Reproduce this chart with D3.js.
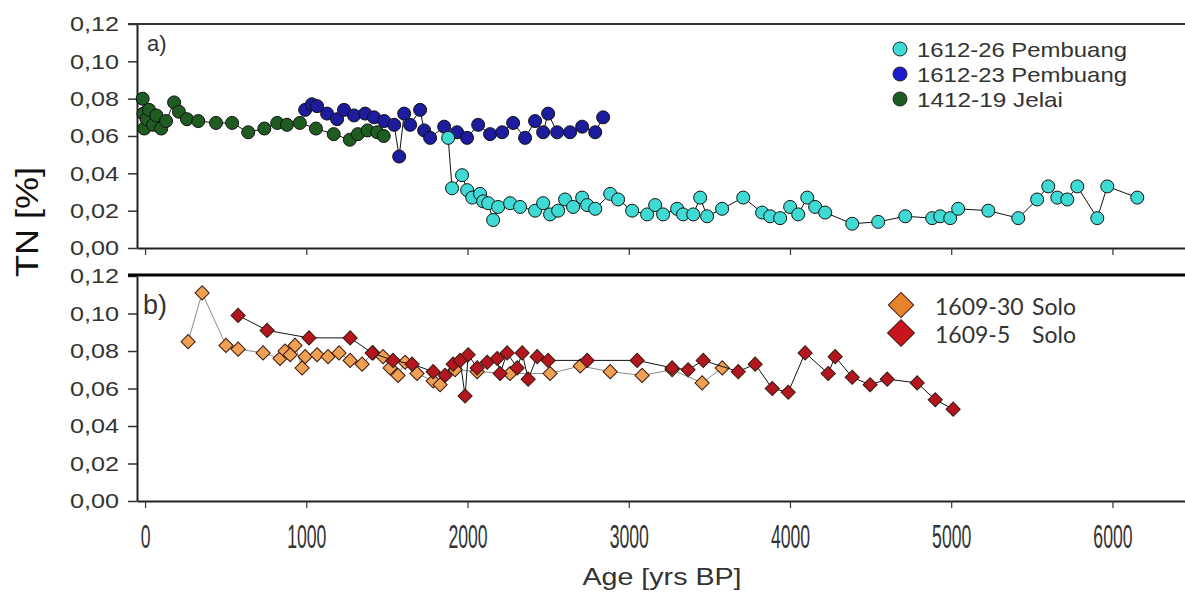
<!DOCTYPE html>
<html>
<head>
<script src="https://cdnjs.cloudflare.com/ajax/libs/d3/7.8.5/d3.min.js"></script>
<style>
    body { margin: 0; background: #fff; }
    svg text { font-family: "Liberation Sans", Arial, sans-serif; fill: #333; }
</style>
</head>
<body>
<div id="chart"></div>
<script>
const yTicks = [0, 0.02, 0.04, 0.06, 0.08, 0.10, 0.12];
const xTicks = [0, 1000, 2000, 3000, 4000, 5000, 6000];

// panel a) [age yrs BP, TN %]
const jelai = [[-15,0.080],[-10,0.072],[-5,0.064],[10,0.069],[25,0.074],[50,0.066],[70,0.071],[100,0.064],
    [130,0.068],[180,0.078],[210,0.073],[260,0.069],[330,0.068],[440,0.067],[540,0.067],[640,0.062],
    [740,0.064],[820,0.067],[880,0.066],[960,0.067],[1060,0.064],[1170,0.061],[1270,0.058],[1320,0.061],
    [1380,0.063],[1440,0.062],[1480,0.060]];
const pemb23 = [[993,0.074],[1035,0.077],[1067,0.076],[1129,0.072],[1191,0.069],[1234,0.074],[1296,0.071],
    [1365,0.072],[1420,0.070],[1483,0.068],[1545,0.066],[1576,0.049],[1607,0.072],[1644,0.066],[1706,0.074],
    [1731,0.063],[1768,0.059],[1855,0.065],[1935,0.062],[1997,0.059],[2066,0.066],[2140,0.061],[2215,0.062],
    [2283,0.067],[2357,0.059],[2419,0.068],[2469,0.062],[2500,0.072],[2556,0.062],[2636,0.062],[2711,0.065],
    [2792,0.062],[2841,0.070]];
const pemb26 = [[1880,0.059],[1904,0.032],[1966,0.039],[1998,0.031],[2029,0.027],[2078,0.029],[2097,0.025],
    [2128,0.024],[2159,0.015],[2190,0.022],[2264,0.024],[2326,0.022],[2419,0.020],[2469,0.024],[2512,0.018],
    [2562,0.020],[2605,0.026],[2655,0.022],[2711,0.027],[2742,0.023],[2792,0.021],[2885,0.029],[2934,0.026],
    [3021,0.020],[3114,0.018],[3164,0.023],[3213,0.018],[3300,0.021],[3337,0.018],[3400,0.018],[3443,0.027],
    [3486,0.017],[3579,0.021],[3710,0.027],[3827,0.019],[3877,0.017],[3939,0.016],[4001,0.022],[4051,0.018],
    [4107,0.027],[4156,0.022],[4218,0.019],[4386,0.013],[4547,0.014],[4715,0.017],[4882,0.016],[4932,0.017],
    [4994,0.016],[5043,0.021],[5230,0.020],[5416,0.016],[5533,0.026],[5602,0.033],[5658,0.027],[5720,0.026],
    [5782,0.033],[5906,0.016],[5968,0.033],[6154,0.027]];

// panel b)
const solo30 = [[267,0.085],[354,0.111],[502,0.083],[577,0.081],[732,0.079],[837,0.076],[868,0.080],[900,0.078],
    [930,0.083],[974,0.071],[993,0.077],[1067,0.078],[1135,0.077],[1203,0.079],[1272,0.075],[1346,0.073],
    [1414,0.079],[1476,0.077],[1520,0.071],[1569,0.067],[1613,0.074],[1687,0.068],[1787,0.064],[1830,0.062],
    [1923,0.070],[2060,0.069],[2264,0.068],[2512,0.068],[2699,0.072],[2885,0.069],[3083,0.067],[3269,0.070],
    [3455,0.063],[3580,0.071]];
const solo5 = [[577,0.099],[757,0.091],[1017,0.087],[1272,0.087],[1408,0.079],[1538,0.075],[1656,0.073],
    [1787,0.069],[1861,0.067],[1911,0.073],[1954,0.075],[1985,0.056],[2004,0.078],[2060,0.071],[2122,0.074],
    [2184,0.076],[2202,0.068],[2246,0.079],[2308,0.071],[2339,0.079],[2376,0.065],[2432,0.077],[2500,0.075],
    [2742,0.075],[3052,0.075],[3269,0.071],[3368,0.070],[3462,0.075],[3679,0.069],[3784,0.073],[3890,0.060],
    [3989,0.058],[4094,0.079],[4237,0.068],[4280,0.077],[4386,0.066],[4497,0.062],[4603,0.065],[4789,0.063],
    [4901,0.054],[5012,0.049]];

const topSeries = [
    {name: '1412-19 Jelai', data: jelai, fill: '#1f5c22'},
    {name: '1612-23 Pembuang', data: pemb23, fill: '#1c1c9c'},
    {name: '1612-26 Pembuang', data: pemb26, fill: '#3fdad3'}
];
const botSeries = [
    {name: '1609-30', data: solo30, fill: '#f0a052', line: '#8a8a8a'},
    {name: '1609-5', data: solo5, fill: '#b3161e', line: '#111'}
];

const width = 1185, height = 594;
const svg = d3.select('#chart').append('svg')
    .attr('width', width)
    .attr('height', height);

const x = d3.scaleLinear().domain([-50, 6450]).range([137, 1185]);
const yTop = d3.scaleLinear().domain([0, 0.12]).range([248, 24]);
const yBot = d3.scaleLinear().domain([0, 0.12]).range([501, 276]);

const fmt = d => d.toFixed(2).replace('.', ',');

function drawYAxis(y) {
    const g = svg.append('g')
        .attr('transform', 'translate(137,0)')
        .call(d3.axisLeft(y).tickValues(yTicks).tickFormat(fmt).tickSize(9).tickSizeOuter(0));
    g.attr('font-family', null).attr('font-size', null);
    g.select('.domain').attr('stroke', '#222').attr('stroke-width', 2);
    g.selectAll('.tick line').attr('stroke', '#333').attr('stroke-width', 1.5);
    g.selectAll('.tick text')
        .attr('x', -18)
        .attr('font-size', 21)
        .attr('textLength', 49)
        .attr('lengthAdjust', 'spacingAndGlyphs');
}

function drawXAxis(yPos, labels) {
    const g = svg.append('g')
        .attr('transform', `translate(0,${yPos})`)
        .call(d3.axisBottom(x).tickValues(xTicks).tickSize(7).tickSizeOuter(0)
            .tickFormat(labels ? d => d : ''));
    g.attr('font-family', null).attr('font-size', null);
    g.select('.domain').attr('stroke', '#222').attr('stroke-width', 2);
    g.selectAll('.tick line').attr('stroke', '#333').attr('stroke-width', 1.2);
    if (labels) {
        g.selectAll('.tick text')
            .attr('y', 47)
            .attr('dy', null)
            .attr('font-size', 34)
            .attr('textLength', d => String(d).length * 9.8)
            .attr('lengthAdjust', 'spacingAndGlyphs');
    }
}

drawYAxis(yTop);
drawYAxis(yBot);
drawXAxis(248, false);
drawXAxis(501, true);

// frame lines
svg.append('line').attr('x1', 128).attr('x2', 1185).attr('y1', yTop(0.12)).attr('y2', yTop(0.12))
    .attr('stroke', '#333').attr('stroke-width', 2);
svg.append('line').attr('x1', 128).attr('x2', 1185).attr('y1', yBot(0.12) - 1).attr('y2', yBot(0.12) - 1)
    .attr('stroke', '#000').attr('stroke-width', 3);

// panel a) data
topSeries.forEach(s => {
    svg.append('path')
        .datum(s.data)
        .attr('fill', 'none')
        .attr('stroke', '#111')
        .attr('stroke-width', 1)
        .attr('d', d3.line().x(d => x(d[0])).y(d => yTop(d[1])));
    svg.append('g').selectAll('circle')
        .data(s.data)
        .join('circle')
        .attr('cx', d => x(d[0]))
        .attr('cy', d => yTop(d[1]))
        .attr('r', 6.5)
        .attr('fill', s.fill)
        .attr('stroke', '#111')
        .attr('stroke-width', 1);
});

// panel b) data
const diamond = d3.symbol().type(d3.symbolSquare).size(100);
botSeries.forEach(s => {
    svg.append('path')
        .datum(s.data)
        .attr('fill', 'none')
        .attr('stroke', s.line)
        .attr('stroke-width', 1)
        .attr('d', d3.line().x(d => x(d[0])).y(d => yBot(d[1])));
    svg.append('g').selectAll('path')
        .data(s.data)
        .join('path')
        .attr('d', diamond)
        .attr('transform', d => `translate(${x(d[0])},${yBot(d[1])}) rotate(45)`)
        .attr('fill', s.fill)
        .attr('stroke', '#3a1a10')
        .attr('stroke-width', 1);
});

// legend a)
const legTop = [
    {label: '1612-26 Pembuang', fill: '#3fdad3', y: 49, len: 210},
    {label: '1612-23 Pembuang', fill: '#1a1ad0', y: 74, len: 210},
    {label: '1412-19 Jelai', fill: '#1f5c22', y: 99, len: 146}
];
legTop.forEach(l => {
    svg.append('circle').attr('cx', 900).attr('cy', l.y).attr('r', 7)
        .attr('fill', l.fill).attr('stroke', '#222').attr('stroke-width', 1);
    svg.append('text').attr('x', 917).attr('y', l.y + 8)
        .attr('font-size', 21)
        .attr('textLength', l.len)
        .attr('lengthAdjust', 'spacingAndGlyphs')
        .text(l.label);
});

// legend b)
const legBot = [
    {label: '1609-30', fill: '#e9822c', y: 305, size: 320},
    {label: '1609-5', fill: '#c9141b', y: 333, size: 360}
];
legBot.forEach(l => {
    svg.append('path')
        .attr('d', d3.symbol().type(d3.symbolSquare).size(l.size))
        .attr('transform', `translate(901,${l.y}) rotate(45)`)
        .attr('fill', l.fill).attr('stroke', '#3a1a10').attr('stroke-width', 1);
    const t = svg.append('text').attr('y', l.y + 10)
        .style('font-family', 'Lato, "Open Sans", sans-serif')
        .attr('font-size', 23);
    t.append('tspan').attr('x', 935).text(l.label);
    t.append('tspan').attr('x', 1032).text('Solo');
});

// panel labels
svg.append('text').attr('x', 147).attr('y', 51).attr('font-size', 22).text('a)');
svg.append('text').attr('x', 143).attr('y', 314).attr('font-size', 27).text('b)');

// axis titles
svg.append('text')
    .attr('transform', 'translate(38,222) rotate(-90)')
    .attr('text-anchor', 'middle')
    .attr('font-size', 32)
    .attr('textLength', 110)
    .attr('lengthAdjust', 'spacingAndGlyphs')
    .style('fill', '#111')
    .text('TN [%]');

svg.append('text')
    .attr('x', 662)
    .attr('y', 585)
    .attr('text-anchor', 'middle')
    .attr('font-size', 24)
    .attr('textLength', 159)
    .attr('lengthAdjust', 'spacingAndGlyphs')
    .text('Age [yrs BP]');
</script>
</body>
</html>
